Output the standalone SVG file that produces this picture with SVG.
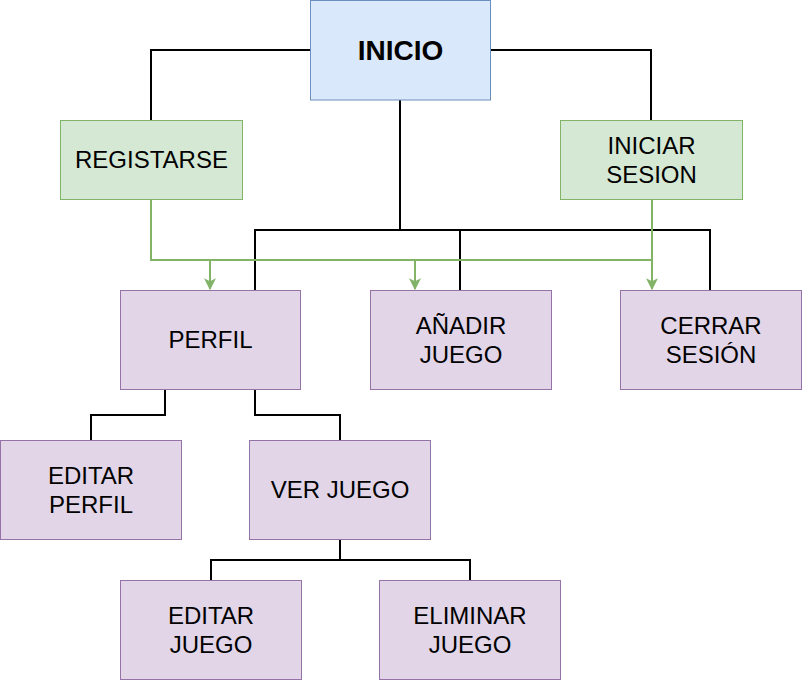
<svg xmlns="http://www.w3.org/2000/svg" width="802" height="681" viewBox="0 0 802 681">
<style>
.b{fill:#dae8fc;stroke:#6c8ebf;stroke-width:1}
.g{fill:#d5e8d4;stroke:#82b366;stroke-width:1}
.p{fill:#e1d5e7;stroke:#9673a6;stroke-width:1}
.t{font-family:"Liberation Sans",Arial,sans-serif;font-size:24px;fill:#000;text-anchor:middle}
.k{fill:none;stroke:#000;stroke-width:2}
.e{fill:none;stroke:#82b366;stroke-width:2}
</style>
<defs>
<marker id="ah" viewBox="0 0 10 10" refX="9" refY="5" markerWidth="6" markerHeight="6" markerUnits="strokeWidth" orient="auto">
<path d="M0,0 L10,5 L0,10 L2.5,5 Z" fill="#82b366"/>
</marker>
</defs>
<g id="connectors">
<path class="k" d="M310,50 H151 V120"/>
<path class="k" d="M491,50 H651 V120"/>
<path class="k" d="M400,100 V230"/>
<path class="k" d="M255,290 V230 H710 V290"/>
<path class="k" d="M460,230 V290"/>
<path class="k" d="M165,390 V415 H91 V440"/>
<path class="k" d="M255,390 V415 H340 V440"/>
<path class="k" d="M340,540 V560"/>
<path class="k" d="M211,580 V560 H470 V580"/>
<path class="e" d="M151,200 V260 H652"/>
<path class="e" d="M652,200 V260"/>
<path class="e" d="M210,260 V289" marker-end="url(#ah)"/>
<path class="e" d="M415,260 V289" marker-end="url(#ah)"/>
<path class="e" d="M652,260 V289" marker-end="url(#ah)"/>
</g>
<g id="inicio"><rect class="b" x="310.5" y="0.5" width="180" height="99.5"/><text class="t" x="400.5" y="60" style="font-weight:bold;font-size:28px">INICIO</text></g>
<g id="registarse"><rect class="g" x="60.5" y="120.5" width="182" height="79"/><text class="t" x="151.5" y="168">REGISTARSE</text></g>
<g id="iniciar"><rect class="g" x="560.5" y="120.5" width="182" height="79"/><text class="t" x="651.5" y="154">INICIAR</text><text class="t" x="651.5" y="183">SESION</text></g>
<g id="perfil"><rect class="p" x="120.5" y="290.5" width="180" height="99"/><text class="t" x="210.5" y="348">PERFIL</text></g>
<g id="anadir"><rect class="p" x="370.5" y="290.5" width="181" height="99"/><text class="t" x="461" y="334">AÑADIR</text><text class="t" x="461" y="363">JUEGO</text></g>
<g id="cerrar"><rect class="p" x="620.5" y="290.5" width="181" height="99"/><text class="t" x="711" y="334">CERRAR</text><text class="t" x="711" y="363">SESIÓN</text></g>
<g id="editarperfil"><rect class="p" x="0.5" y="440.5" width="181" height="99"/><text class="t" x="91" y="484">EDITAR</text><text class="t" x="91" y="513">PERFIL</text></g>
<g id="verjuego"><rect class="p" x="249.5" y="440.5" width="181" height="99"/><text class="t" x="340" y="498">VER JUEGO</text></g>
<g id="editarjuego"><rect class="p" x="120.5" y="580.5" width="181" height="99"/><text class="t" x="211" y="624">EDITAR</text><text class="t" x="211" y="653">JUEGO</text></g>
<g id="eliminarjuego"><rect class="p" x="379.5" y="580.5" width="181" height="99"/><text class="t" x="470" y="624">ELIMINAR</text><text class="t" x="470" y="653">JUEGO</text></g>
</svg>
